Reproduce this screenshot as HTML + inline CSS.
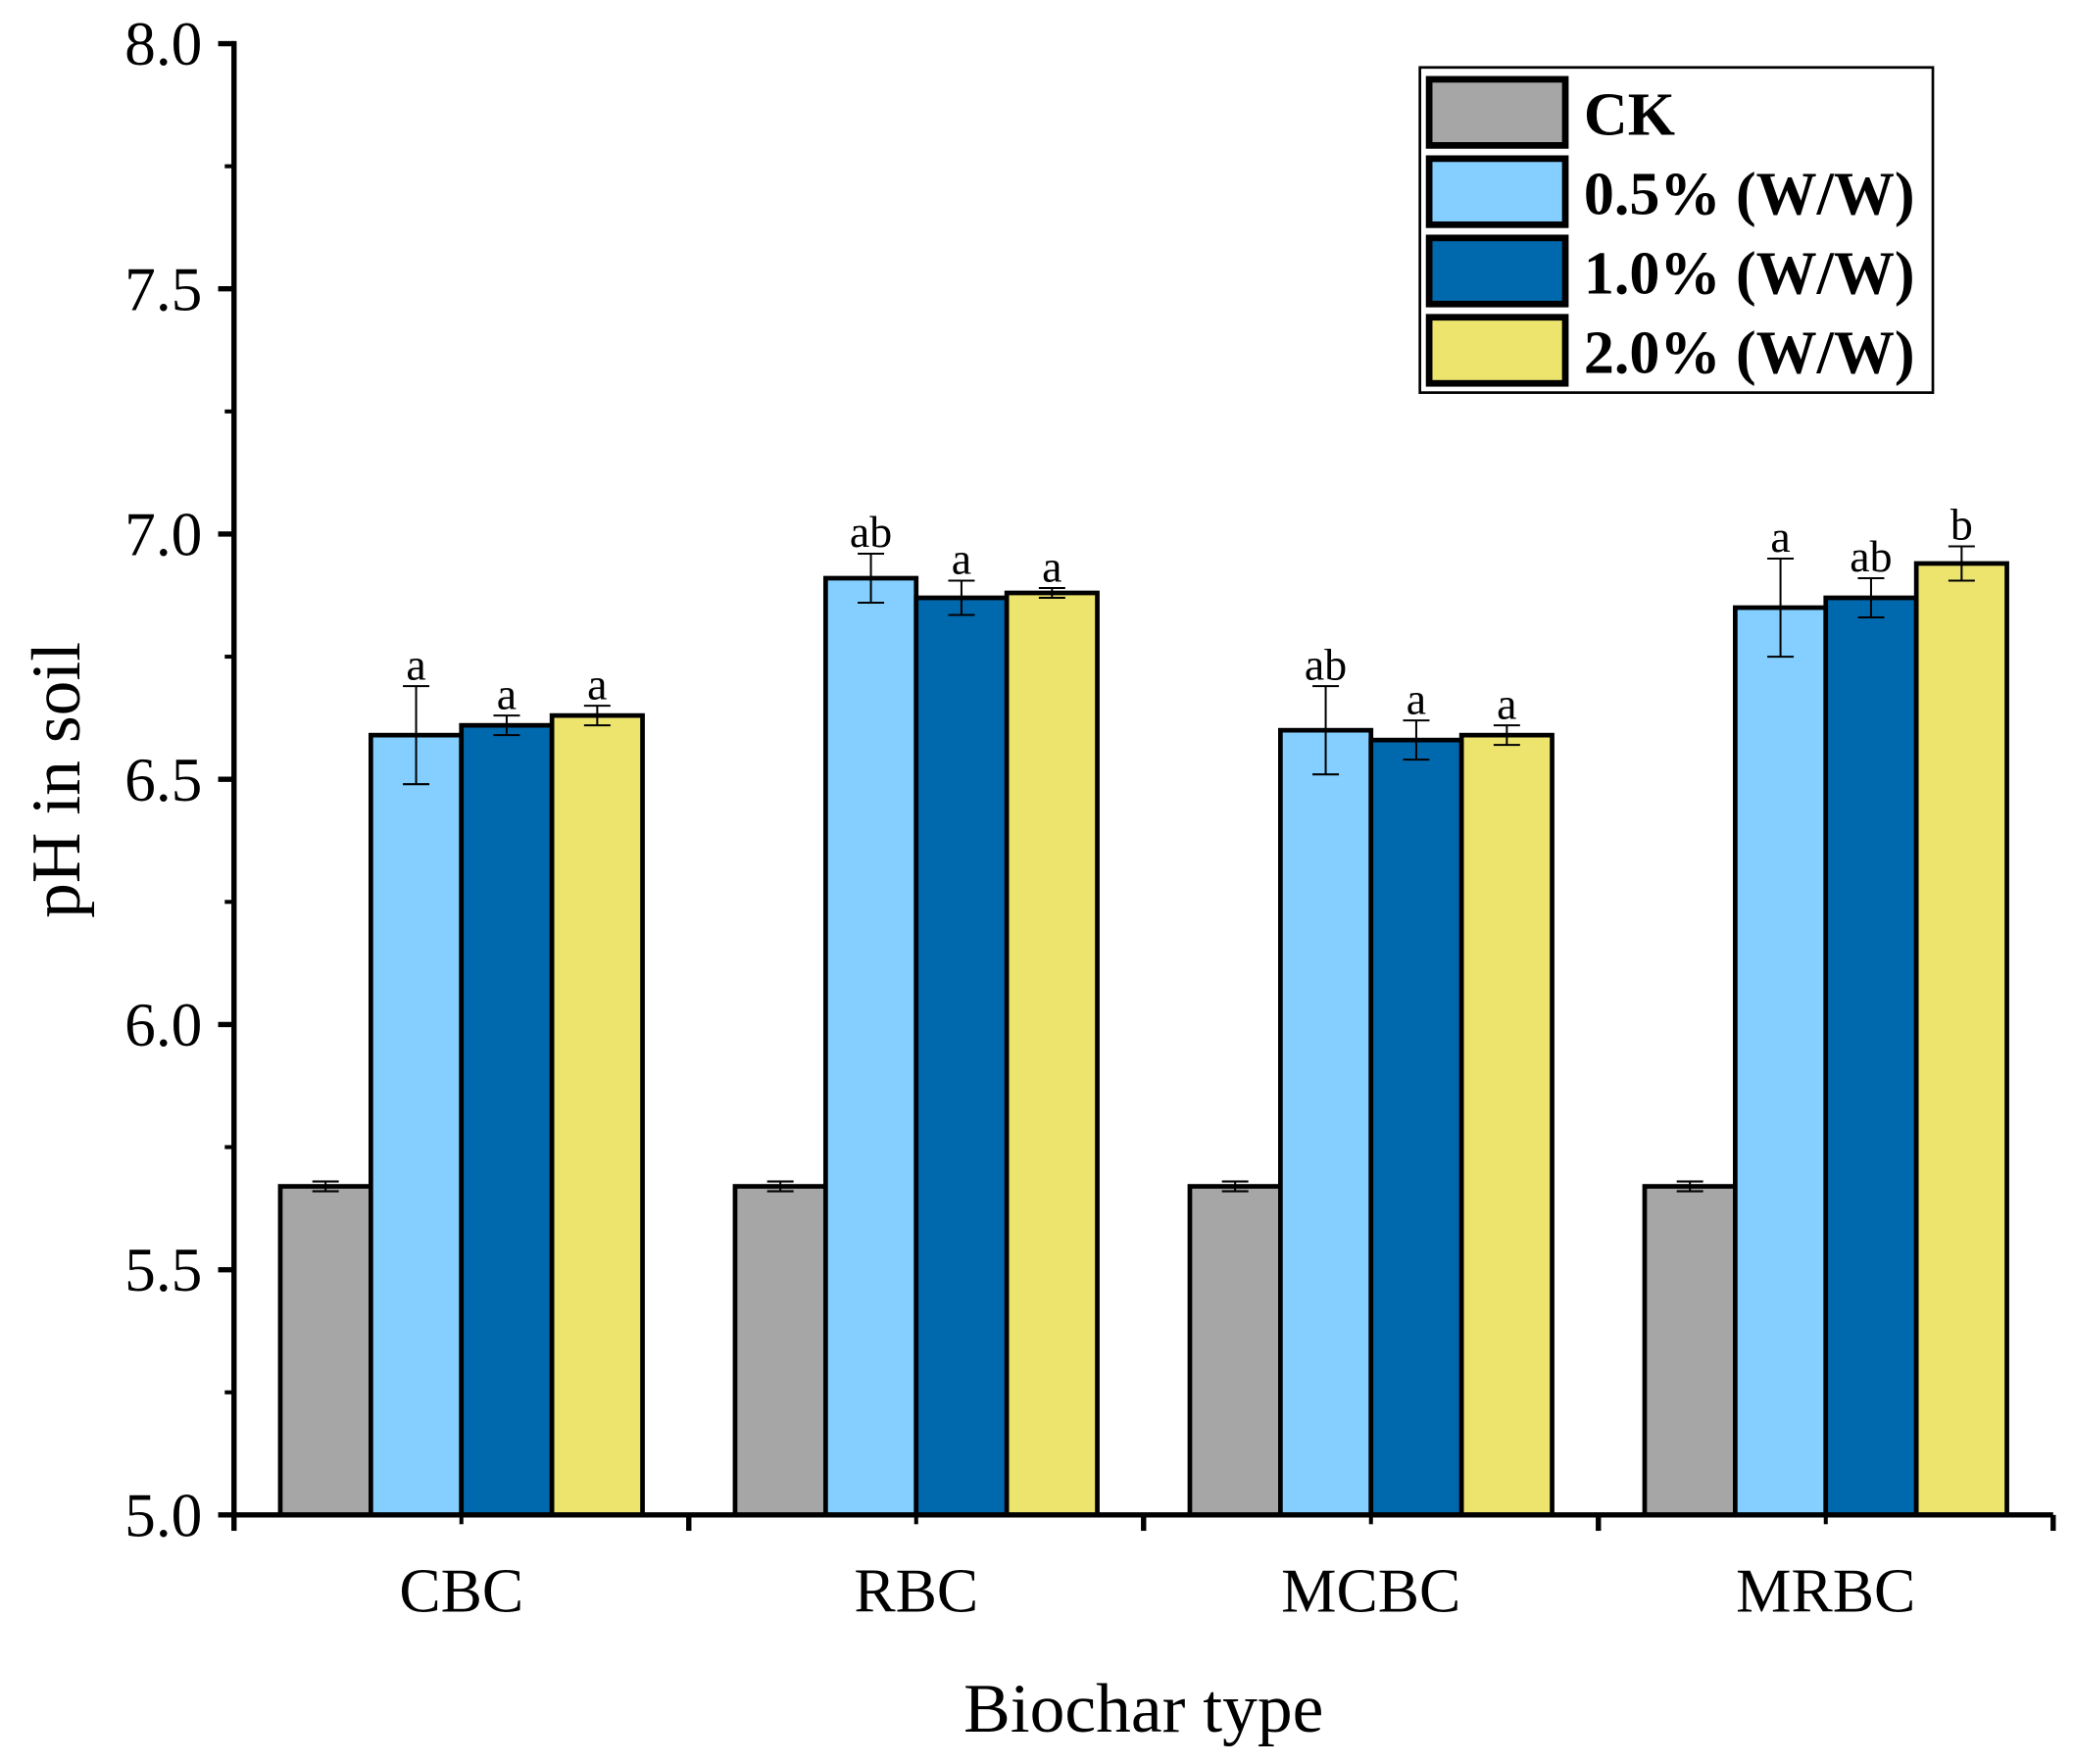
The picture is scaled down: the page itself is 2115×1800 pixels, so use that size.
<!DOCTYPE html>
<html><head><meta charset="utf-8"><style>
html,body{margin:0;padding:0;background:#fff;}
svg{display:block;font-family:"Liberation Serif",serif;}
</style></head><body>
<svg id="chart" width="2115" height="1800" viewBox="0 0 1568 1334.4" preserveAspectRatio="none">
<g id="bars"></g>
<g id="axes"></g>
<g>
<rect x="1074" y="51" width="388" height="246" fill="#fff" stroke="#000" stroke-width="2"/>
<rect x="1081" y="60" width="103" height="50" fill="#a6a6a6" stroke="#000" stroke-width="5"/>
<text x="1198" y="102" font-size="46" font-weight="bold">CK</text>
<rect x="1081" y="120" width="103" height="50" fill="#84cfff" stroke="#000" stroke-width="5"/>
<text x="1198" y="162" font-size="46" font-weight="bold">0.5% (W/W)</text>
<rect x="1081" y="180" width="103" height="50" fill="#0069ad" stroke="#000" stroke-width="5"/>
<text x="1198" y="222" font-size="46" font-weight="bold">1.0% (W/W)</text>
<rect x="1081" y="240" width="103" height="50" fill="#ede46e" stroke="#000" stroke-width="5"/>
<text x="1198" y="282" font-size="46" font-weight="bold">2.0% (W/W)</text>
</g>
<text x="865" y="1310" font-size="53" text-anchor="middle">Biochar type</text>
<text transform="translate(60,590) rotate(-90)" font-size="53" text-anchor="middle">pH in soil</text>
</svg>
<script>
const categories = ["CBC","RBC","MCBC","MRBC"];
const seriesNames = ["CK","0.5%","1.0%","2.0%"];
const ckValues = [5.67,5.67,5.67,5.67];
const v05 = [6.59,6.91,6.60,6.85];
const v10 = [6.61,6.87,6.58,6.87];
const v20 = [6.63,6.88,6.59,6.94];
const ckErr = [0.01,0.01,0.01,0.01];
const e05 = [0.10,0.05,0.09,0.10];
const e10 = [0.02,0.035,0.04,0.04];
const e20 = [0.02,0.01,0.02,0.035];
const l05 = ["a","ab","ab","a"];
const l10 = ["a","a","a","ab"];
const l20 = ["a","a","a","b"];
const yTicks = [5.0,5.5,6.0,6.5,7.0,7.5,8.0];

const NS="http://www.w3.org/2000/svg";
const y0=1146, y1=33, vmin=5, vmax=8;
const yScale=v=>y0-(v-vmin)/(vmax-vmin)*(y0-y1);
const xL=177, xR=1553, bw=(xR-xL)/categories.length;
const xCenter=i=>xL+bw*(i+0.5);
const barW=68.5;
const colors=["#a6a6a6","#84cfff","#0069ad","#ede46e"];
const vals=[ckValues,v05,v10,v20], errs=[ckErr,e05,e10,e20], lets=[null,l05,l10,l20];
function mk(t,a,p){const e=document.createElementNS(NS,t);for(const k in a)e.setAttribute(k,a[k]);p.appendChild(e);return e;}
const bars=document.getElementById('bars'), axes=document.getElementById('axes');
categories.forEach((c,i)=>{
  for(let s=0;s<4;s++){
    const x=xCenter(i)-2*barW+s*barW, v=vals[s][i], y=yScale(v);
    const r=mk('rect',{x:x,y:y,width:barW,height:y0-y,fill:colors[s],stroke:'#000','stroke-width':3.5},bars);
    
    
    const cx=x+barW/2, yt=yScale(v+errs[s][i]), yb=yScale(v-errs[s][i]);
    const g=mk('g',{stroke:'#000','stroke-width':1.5},bars);
    
    
    mk('line',{x1:cx,x2:cx,y1:yt,y2:yb},g);
    mk('line',{x1:cx-10,x2:cx+10,y1:yt,y2:yt},g);
    mk('line',{x1:cx-10,x2:cx+10,y1:yb,y2:yb},g);
    if(lets[s]){
      const t=mk('text',{x:cx,y:yt-5,'font-size':34,'text-anchor':'middle'},bars);
      t.textContent=lets[s][i];
      
      
    }
  }
  const t=mk('text',{x:xCenter(i),y:1219,'font-size':47,'text-anchor':'middle'},axes);
  t.textContent=c;
  
  
});
mk('line',{x1:xL,x2:xL,y1:y1-2,y2:y0+2,stroke:'#000','stroke-width':4},axes);
mk('line',{x1:xL-2,x2:xR,y1:y0,y2:y0,stroke:'#000','stroke-width':4},axes);
for(let k=0;k<=categories.length;k++){
  const x=xL+bw*k;
  mk('line',{x1:x,x2:x,y1:y0,y2:y0+12,stroke:'#000','stroke-width':4},axes);
  if(k<categories.length) mk('line',{x1:x+bw/2,x2:x+bw/2,y1:y0,y2:y0+7,stroke:'#000','stroke-width':3},axes);
}
yTicks.forEach((v,j)=>{
  const y=yScale(v);
  mk('line',{x1:xL-12,x2:xL,y1:y,y2:y,stroke:'#000','stroke-width':4},axes);
  if(j<yTicks.length-1){const ym=yScale(v+0.25);mk('line',{x1:xL-7,x2:xL,y1:ym,y2:ym,stroke:'#000','stroke-width':3},axes);}
  const t=mk('text',{x:xL-24,y:y+16,'font-size':47,'text-anchor':'end'},axes);
  t.textContent=v.toFixed(1);
  
  
});
</script>
</body></html>
